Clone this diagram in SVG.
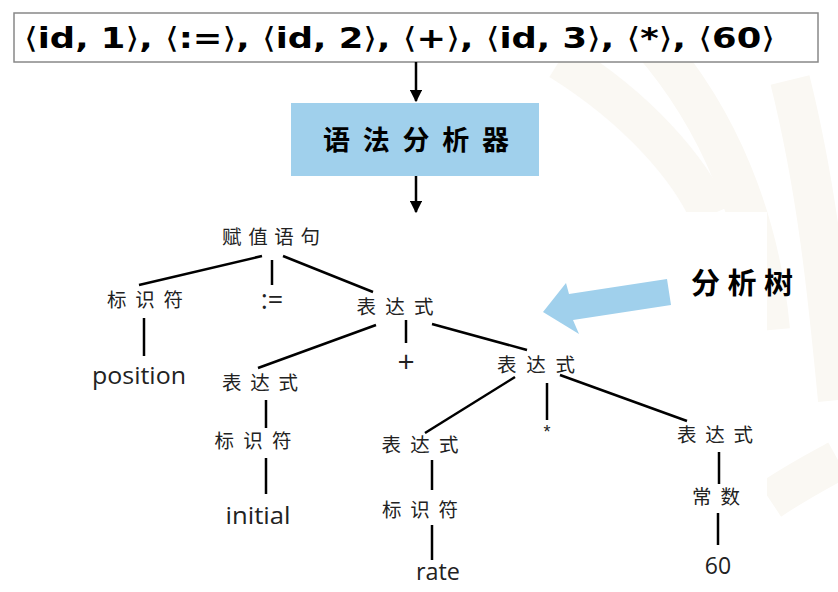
<svg xmlns="http://www.w3.org/2000/svg" width="838" height="592" viewBox="0 0 838 592">
<defs>
<style>
.wm{fill:none;stroke:#FAF8F3;stroke-width:40}
.cjk{font-family:"Noto Sans CJK SC","Noto Sans",sans-serif;font-size:19.5px;fill:#222;text-anchor:middle}
.lat{font-family:"Open Sans","Lato","Liberation Sans",sans-serif;font-size:23px;fill:#222;text-anchor:middle}
.edge{stroke:#000;stroke-width:2.5;stroke-linecap:butt}
.flow{stroke:#000;stroke-width:2.5}
.br{font-weight:normal}
</style>
<marker id="ah" viewBox="0 0 10 10" refX="9" refY="5" markerWidth="5" markerHeight="5" orient="auto" markerUnits="strokeWidth">
<path d="M0,0 L10,5 L0,10 Z" fill="#000"/>
</marker>
</defs>
<rect width="838" height="592" fill="#fff"/>
<g id="watermark">
<path class="wm" d="M650,40 C720,120 760,220 770,330"/>
<path class="wm" d="M560,60 C640,110 690,170 710,215"/>
<path class="wm" d="M790,80 C820,200 830,320 838,400"/>
<path class="wm" d="M770,500 C800,480 820,470 838,460"/>
</g>
<rect x="70" y="212" width="697" height="380" fill="#fff"/>
<g id="tokens">
<rect x="14" y="13" width="804" height="49" fill="#fff" stroke="#888" stroke-width="1.5"/>
<text x="24" y="48" font-family="'DejaVu Sans Condensed','DejaVu Sans','Liberation Sans',sans-serif" font-weight="bold" font-size="29" fill="#000" textLength="751" lengthAdjust="spacingAndGlyphs"><tspan class="br">⟨</tspan>id, 1<tspan class="br">⟩</tspan>, <tspan class="br">⟨</tspan>:=<tspan class="br">⟩</tspan>, <tspan class="br">⟨</tspan>id, 2<tspan class="br">⟩</tspan>, <tspan class="br">⟨</tspan>+<tspan class="br">⟩</tspan>, <tspan class="br">⟨</tspan>id, 3<tspan class="br">⟩</tspan>, <tspan class="br">⟨</tspan>*<tspan class="br">⟩</tspan>, <tspan class="br">⟨</tspan>60<tspan class="br">⟩</tspan></text>
</g>
<g id="parser">
<rect x="291" y="103" width="248" height="73" fill="#A0D0EC"/>
<text x="416" y="150" font-family="'Noto Sans CJK SC',sans-serif" font-weight="bold" font-size="27" fill="#000" text-anchor="middle" textLength="186" lengthAdjust="spacing">语法分析器</text>
</g>
<g id="label-tree">
<polygon points="543,312 566,283 569,294 667,279 671,305 573,320 579,334" fill="#A0D0EC"/>
<text x="742" y="294" font-family="'Noto Sans CJK SC',sans-serif" font-weight="bold" font-size="29" fill="#000" text-anchor="middle" textLength="102" lengthAdjust="spacing">分析树</text>
</g>
<g id="connectors">
<line class="flow" x1="416" y1="62" x2="416" y2="101" marker-end="url(#ah)"/>
<line class="flow" x1="416" y1="176" x2="416" y2="212" marker-end="url(#ah)"/>
<line class="edge" x1="262" y1="256" x2="139" y2="285"/>
<line class="edge" x1="272" y1="260" x2="272" y2="285"/>
<line class="edge" x1="283" y1="256" x2="373" y2="292"/>
<line class="edge" x1="144" y1="318" x2="144" y2="356"/>
<line class="edge" x1="376" y1="325" x2="258" y2="368"/>
<line class="edge" x1="406" y1="320" x2="406" y2="343"/>
<line class="edge" x1="432" y1="324" x2="527" y2="350"/>
<line class="edge" x1="266" y1="400" x2="266" y2="428"/>
<line class="edge" x1="266" y1="458" x2="266" y2="494"/>
<line class="edge" x1="515" y1="377" x2="425" y2="433"/>
<line class="edge" x1="547" y1="383" x2="547" y2="420"/>
<line class="edge" x1="560" y1="375" x2="687" y2="421"/>
<line class="edge" x1="432" y1="460" x2="432" y2="490"/>
<line class="edge" x1="432" y1="525" x2="432" y2="560"/>
<line class="edge" x1="719" y1="452" x2="719" y2="484"/>
<line class="edge" x1="718" y1="513" x2="718" y2="545"/>
</g>
<g id="n-assign"><text class="cjk" x="271" y="244" textLength="98" lengthAdjust="spacing">赋值语句</text></g>
<g id="n-id1"><text class="cjk" x="145" y="307" textLength="76" lengthAdjust="spacing">标识符</text></g>
<g id="n-assignop"><text class="lat" x="272" y="309" style="font-size:27px">:=</text></g>
<g id="n-expr1"><text class="cjk" x="395" y="314" textLength="77" lengthAdjust="spacing">表达式</text></g>
<g id="n-position"><text class="lat" x="139" y="384" textLength="94" lengthAdjust="spacingAndGlyphs">position</text></g>
<g id="n-expr2"><text class="cjk" x="260" y="390" textLength="76" lengthAdjust="spacing">表达式</text></g>
<g id="n-plus"><text class="lat" x="406" y="372" style="font-size:30px">+</text></g>
<g id="n-expr3"><text class="cjk" x="536" y="372" textLength="78" lengthAdjust="spacing">表达式</text></g>
<g id="n-id2"><text class="cjk" x="253" y="448" textLength="77" lengthAdjust="spacing">标识符</text></g>
<g id="n-initial"><text class="lat" x="258" y="524" textLength="65" lengthAdjust="spacingAndGlyphs">initial</text></g>
<g id="n-expr4"><text class="cjk" x="420" y="452" textLength="77" lengthAdjust="spacing">表达式</text></g>
<g id="n-star"><text x="547" y="438" font-family="'Liberation Sans',sans-serif" font-size="18" fill="#222" text-anchor="middle">*</text></g>
<g id="n-expr5"><text class="cjk" x="715" y="442" textLength="76" lengthAdjust="spacing">表达式</text></g>
<g id="n-id3"><text class="cjk" x="420" y="517" textLength="76" lengthAdjust="spacing">标识符</text></g>
<g id="n-rate"><text class="lat" x="438" y="580" textLength="44" lengthAdjust="spacingAndGlyphs">rate</text></g>
<g id="n-const"><text class="cjk" x="716" y="504" textLength="48" lengthAdjust="spacing">常数</text></g>
<g id="n-60"><text class="lat" x="718" y="574">60</text></g>
</svg>
